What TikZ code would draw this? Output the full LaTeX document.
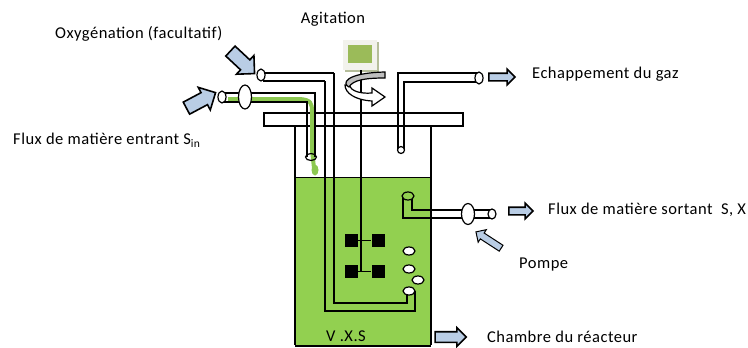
\documentclass[tikz,border=0pt]{standalone}
\usepackage{fontspec}
\setmainfont[LetterSpace=3]{Carlito}
\usepackage{tikz}
\usetikzlibrary{arrows,%
                shapes,positioning}
\definecolor{liquid}{HTML}{92D050}
\definecolor{feedgreen}{HTML}{8CC850}
\definecolor{flowblue}{HTML}{B9CDE5}
\definecolor{motorgreen}{HTML}{9BBB59}
\definecolor{motorface}{HTML}{F2F2EC}
\definecolor{motorshade}{HTML}{B5BD9A}
\tikzset{
  tube/.style={draw=black, line width=1.2pt},
  port/.style={ellipse, draw=black, line width=1.2pt, fill=white, inner sep=0pt},
  bubble/.style={port, minimum width=12pt, minimum height=8pt},
  blade/.style={fill=black, inner sep=0pt, minimum width=13pt, minimum height=13pt},
  bigflow/.style={single arrow, draw=black, line width=1.6pt, fill=flowblue, inner xsep=0pt, inner ysep=6pt,
    minimum height=#1, single arrow head extend=6pt, single arrow tip angle=90},
  flow/.style={bigflow=#1, inner ysep=3pt, single arrow head extend=4pt},
  caption/.style={font=\fontsize{16.5}{18}\selectfont, inner sep=0pt}
}
\begin{document}
\begin{tikzpicture}[x=1pt,y=-1pt]
\useasboundingbox (0,0) rectangle (748,348);

% reactor
\fill[liquid] (295,177) rectangle (431,345);
\draw[line width=1pt] (295,177) -- (431,177);
\draw[line width=1.2pt] (295,126) -- (295,345);
\draw[line width=1.2pt] (431,126) -- (431,345);
\draw[line width=1.6pt] (295,346) -- (431,346);
\draw[line width=1.2pt] (264,113) rectangle (463,126);

% green feed
\draw[feedgreen, line width=4pt, line join=round]
  (228,99) -- (300,99) .. controls (311,100) and (312,103) .. (312,112) -- (312,150) -- (314,168);
\fill[feedgreen] (315,170) ellipse (3.5pt and 5.5pt);

% oxygen line
\draw[tube] (260,73) -- (334,73);
\draw[tube] (263,81) -- (325,81);
\draw[tube] (334,73) -- (334,303) -- (407,303) -- (407,291);
\draw[tube] (325,81) -- (325,311) -- (415,311) -- (415,291);

% feed line
\draw[tube] (222,93) -- (315,93) -- (315,157);
\draw[tube] (222,102) -- (307,102) -- (307,157);

% exhaust line
\draw[tube] (401,150) -- (398,150) -- (398,73) -- (479,73);
\draw[tube] (404,150) -- (404,82) -- (479,82);

% outlet line
\draw[tube] (403,196) -- (403,218) -- (492,218);
\draw[tube] (412,196) -- (412,210) -- (492,210);

% ports
\node[port, minimum width=8pt, minimum height=12pt] (oxyend) at (261,75) {};
\node[port, minimum width=8pt, minimum height=12pt] (feedend) at (222,97) {};
\node[port, minimum width=13pt, minimum height=24pt] (feedpump) at (245,97) {};
\node[port, fill=none, minimum width=11pt, minimum height=7pt] (feedtip) at (311,157) {};
\node[port, minimum width=8pt, minimum height=12pt] (gasend) at (479,78) {};
\node[port, minimum width=7pt, minimum height=7pt] (gastip) at (401,150) {};
\node[bubble, fill=liquid] (outtip) at (408,196) {};
\node[port, minimum width=13pt, minimum height=21pt] (outpump) at (468,214) {};
\node[port, minimum width=8pt, minimum height=10pt] (outend) at (492,214) {};

% bubbles
\node[bubble] (bubblea) at (409,251) {};
\node[bubble] (bubbleb) at (409,269) {};
\node[bubble] (bubblec) at (418,280) {};
\node[bubble] (bubbled) at (409,291) {};

% motor
\fill[motorshade] (345,42) rectangle (379,72);
\fill[motorface] (343,40) rectangle (377,70);
\fill[motorgreen] (348,45) rectangle (372,63);
\coordinate (motor) at (361,70);

% impeller
\node[blade] (bladea) at (351,240) {};
\node[blade] (bladeb) at (378,240) {};
\node[blade] (bladec) at (351,271) {};
\node[blade] (bladed) at (378,271) {};
\draw[line width=1pt] (bladea) -- (bladeb);
\draw[line width=1pt] (bladec) -- (bladed);

% rotation
\draw[tube] (motor) -- (361,272);
\draw[line width=1.2pt, fill=white] (345,85) .. controls (345,93) and (355,100) .. (372,101)
  -- (372,106) -- (385,97) -- (372,88) -- (372,93) .. controls (360,94) and (351,91) .. (349,85) -- cycle;
\draw[line width=1.2pt, fill=black!25] (385,72) -- (385,78) .. controls (365,78) and (353,80) .. (349,87)
  .. controls (342,84) and (344,73) .. (385,72) -- cycle;

% flows
\node[bigflow=33pt, rotate=-43] (oxyflow) at (240,60) {};
\node[bigflow=33pt, rotate=28] (feedflow) at (198,102) {};
\node[flow=26pt] (gasflow) at (500,77) {};
\node[flow=24pt] (outflow) at (519,211) {};
\node[flow=30pt, rotate=147, line width=1pt] (pumpflow) at (490,241) {};
\node[flow=31pt, inner ysep=4.5pt] (chamberflow) at (448,337) {};

% labels
\node[caption] (agitation) at (333,19) {Agitation};
\node[caption, anchor=west] (oxylabel) at (55,34) {Oxygénation (facultatif)};
\node[caption, anchor=west] (feedlabel) at (13,140) {Flux de matière entrant S\textsubscript{in}};
\node[caption, anchor=west] (gaslabel) at (532,74) {Echappement du gaz};
\node[caption, anchor=west] (outlabel) at (548,210) {Flux de matière sortant\ \ S, X};
\node[caption, anchor=west] (pumplabel) at (519,265) {Pompe};
\node[caption, anchor=west] (chamberlabel) at (487,337) {Chambre du réacteur};
\node[caption] (volume) at (346,336) {V .X.S};
\end{tikzpicture}
\end{document}
